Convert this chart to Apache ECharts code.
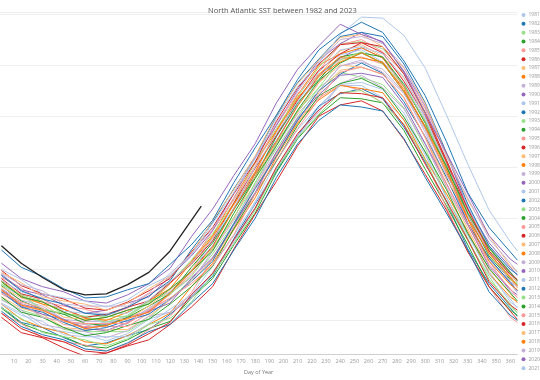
<!DOCTYPE html>
<html><head><meta charset="utf-8">
<script src="https://cdn.jsdelivr.net/npm/echarts/dist/echarts.min.js"></script>
<style>html,body{margin:0;padding:0;background:#fff}#c{width:540px;height:380px}</style>
</head><body><div id="c"></div>
<script>
const days = [1,15,30,45,60,75,90,105,120,135,150,165,180,195,210,225,240,255,270,285,300,315,330,345,360,365];
const days2023 = [1,15,30,45,60,75,90,105,120,135,142];
const xTicks = [10,20,30,40,50,60,70,80,90,100,110,120,130,140,150,160,170,180,190,200,210,220,230,240,250,260,270,280,290,300,310,320,330,340,350,360];

const y1981 = [20.17,20.07,19.93,19.89,19.86,19.80,19.87,20.01,20.08,20.25,20.53,20.83,21.16,21.56,21.87,22.10,22.30,22.30,22.18,21.97,21.62,21.20,20.83,20.48,20.18,20.13];
const y1982 = [20.13,19.98,19.93,19.83,19.75,19.78,19.85,19.91,20.06,20.23,20.43,20.80,21.14,21.46,21.81,22.10,22.22,22.27,22.17,21.89,21.55,21.16,20.70,20.36,20.12,20.04];
const y1983 = [20.21,20.10,20.04,19.91,19.89,19.89,19.89,20.02,20.21,20.40,20.65,20.95,21.35,21.68,21.99,22.28,22.43,22.38,22.31,22.08,21.69,21.21,20.80,20.40,20.16,20.07];
const y1984 = [20.12,19.97,19.89,19.84,19.75,19.73,19.81,19.92,19.99,20.22,20.41,20.74,21.05,21.45,21.78,22.01,22.18,22.17,22.13,21.86,21.48,21.12,20.74,20.33,20.10,20.05];
const y1985 = [20.07,19.97,19.83,19.79,19.76,19.70,19.77,19.91,20.04,20.27,20.61,20.91,21.24,21.64,21.95,22.18,22.31,22.25,22.13,21.92,21.57,21.10,20.68,20.33,20.03,19.98];
const y1986 = [20.03,19.88,19.83,19.73,19.65,19.68,19.75,19.81,19.96,20.13,20.33,20.70,21.04,21.36,21.71,22.00,22.11,22.15,22.05,21.77,21.43,21.08,20.67,20.33,20.09,20.01];
const y1987 = [20.23,20.12,20.06,19.93,19.91,19.91,19.91,20.04,20.20,20.38,20.60,20.90,21.30,21.63,21.94,22.23,22.45,22.48,22.41,22.18,21.79,21.30,20.90,20.50,20.26,20.17];
const y1988 = [20.16,20.01,19.93,19.88,19.79,19.77,19.85,19.96,20.07,20.33,20.56,20.89,21.20,21.60,21.93,22.16,22.30,22.27,22.23,21.96,21.58,21.24,20.87,20.46,20.23,20.18];
const y1989 = [20.20,20.10,19.96,19.92,19.89,19.83,19.90,20.04,20.08,20.22,20.47,20.77,21.10,21.50,21.81,22.04,22.32,22.40,22.28,22.07,21.72,21.30,20.93,20.58,20.28,20.23];
const y1990 = [20.31,20.16,20.11,20.01,19.93,19.96,20.03,20.09,20.28,20.49,20.73,21.10,21.44,21.76,22.11,22.40,22.57,22.67,22.57,22.29,21.95,21.48,20.95,20.61,20.37,20.29];
const y1991 = [20.16,20.05,19.99,19.86,19.84,19.84,19.84,19.97,20.11,20.25,20.45,20.75,21.15,21.48,21.79,22.08,22.31,22.33,22.26,22.03,21.64,21.20,20.85,20.45,20.21,20.12];
const y1992 = [20.09,19.94,19.86,19.81,19.72,19.70,19.78,19.89,19.96,20.17,20.36,20.69,21.00,21.40,21.73,21.96,22.11,22.09,22.05,21.78,21.40,21.05,20.69,20.28,20.05,20.00];
const y1993 = [20.12,20.02,19.88,19.84,19.81,19.75,19.82,19.96,20.02,20.18,20.45,20.75,21.08,21.48,21.79,22.02,22.23,22.25,22.13,21.92,21.57,21.15,20.78,20.43,20.13,20.08];
const y1994 = [20.23,20.08,20.03,19.93,19.85,19.88,19.95,20.01,20.16,20.33,20.53,20.90,21.24,21.56,21.91,22.20,22.32,22.37,22.27,21.99,21.65,21.28,20.85,20.51,20.27,20.19];
const y1995 = [20.26,20.15,20.09,19.96,19.94,19.94,19.94,20.07,20.26,20.45,20.70,21.00,21.40,21.73,22.04,22.33,22.56,22.58,22.51,22.28,21.89,21.43,21.05,20.65,20.41,20.32];
const y1996 = [20.07,19.92,19.84,19.79,19.70,19.68,19.76,19.87,19.98,20.25,20.46,20.79,21.10,21.50,21.83,22.06,22.23,22.22,22.18,21.91,21.53,21.17,20.79,20.38,20.15,20.10];
const y1997 = [20.27,20.17,20.03,19.99,19.96,19.90,19.97,20.11,20.25,20.48,20.83,21.13,21.46,21.86,22.17,22.40,22.64,22.70,22.58,22.37,22.02,21.50,21.03,20.68,20.38,20.33];
const y1998 = [20.38,20.23,20.18,20.08,20.00,20.03,20.10,20.16,20.36,20.58,20.83,21.20,21.54,21.86,22.21,22.50,22.61,22.67,22.57,22.29,21.95,21.51,21.00,20.66,20.42,20.34];
const y1999 = [20.31,20.20,20.14,20.01,19.99,19.99,19.99,20.12,20.26,20.42,20.62,20.92,21.32,21.65,21.96,22.25,22.49,22.53,22.46,22.23,21.84,21.38,21.00,20.60,20.36,20.27];
const y2000 = [20.29,20.14,20.06,20.01,19.92,19.90,19.98,20.09,20.17,20.41,20.61,20.94,21.25,21.65,21.98,22.21,22.40,22.42,22.38,22.11,21.73,21.34,20.94,20.53,20.30,20.25];
const y2001 = [20.34,20.24,20.10,20.06,20.03,19.97,20.04,20.18,20.28,20.47,20.78,21.08,21.41,21.81,22.12,22.35,22.60,22.65,22.53,22.32,21.97,21.48,21.03,20.68,20.38,20.33];
const y2002 = [20.28,20.13,20.08,19.98,19.90,19.93,20.00,20.06,20.21,20.38,20.58,20.95,21.29,21.61,21.96,22.25,22.41,22.52,22.42,22.14,21.80,21.40,20.95,20.61,20.37,20.29];
const y2003 = [20.36,20.25,20.19,20.06,20.04,20.04,20.04,20.17,20.37,20.59,20.85,21.15,21.55,21.88,22.19,22.48,22.71,22.73,22.66,22.43,22.04,21.53,21.10,20.70,20.46,20.37];
const y2004 = [20.34,20.19,20.11,20.06,19.97,19.95,20.03,20.14,20.26,20.52,20.76,21.09,21.40,21.80,22.13,22.36,22.58,22.62,22.58,22.31,21.93,21.50,21.04,20.63,20.40,20.35];
const y2005 = [20.42,20.32,20.18,20.14,20.11,20.05,20.12,20.26,20.37,20.56,20.88,21.18,21.51,21.91,22.22,22.45,22.70,22.75,22.63,22.42,22.07,21.55,21.08,20.73,20.43,20.38];
const y2006 = [20.41,20.26,20.21,20.11,20.03,20.06,20.13,20.19,20.37,20.55,20.78,21.15,21.49,21.81,22.16,22.45,22.61,22.72,22.62,22.34,22.00,21.55,21.05,20.71,20.47,20.39];
const y2007 = [20.33,20.22,20.16,20.03,20.01,20.01,20.01,20.14,20.30,20.48,20.70,21.00,21.40,21.73,22.04,22.33,22.50,22.48,22.41,22.18,21.79,21.38,21.05,20.65,20.41,20.32];
const y2008 = [20.39,20.24,20.16,20.11,20.02,20.00,20.08,20.19,20.31,20.57,20.81,21.14,21.45,21.85,22.18,22.41,22.58,22.57,22.53,22.26,21.88,21.45,20.99,20.58,20.35,20.30];
const y2009 = [20.27,20.17,20.03,19.99,19.96,19.90,19.97,20.11,20.20,20.38,20.68,20.98,21.31,21.71,22.02,22.25,22.49,22.55,22.43,22.22,21.87,21.43,21.03,20.68,20.38,20.33];
const y2010 = [20.45,20.30,20.25,20.15,20.07,20.10,20.17,20.23,20.43,20.63,20.88,21.25,21.59,21.91,22.26,22.55,22.71,22.82,22.72,22.44,22.10,21.63,21.10,20.76,20.52,20.44];
const y2011 = [20.39,20.28,20.22,20.09,20.07,20.07,20.07,20.20,20.38,20.56,20.80,21.10,21.50,21.83,22.14,22.43,22.65,22.68,22.61,22.38,21.99,21.51,21.12,20.72,20.48,20.39];
const y2012 = [20.44,20.29,20.21,20.16,20.07,20.05,20.13,20.24,20.39,20.69,20.96,21.29,21.60,22.00,22.33,22.56,22.78,22.82,22.78,22.51,22.13,21.64,21.14,20.73,20.50,20.45];
const y2013 = [20.35,20.25,20.11,20.07,20.04,19.98,20.05,20.19,20.26,20.43,20.71,21.01,21.34,21.74,22.05,22.28,22.55,22.63,22.51,22.30,21.95,21.48,21.06,20.71,20.41,20.36];
const y2014 = [20.38,20.23,20.18,20.08,20.00,20.03,20.10,20.16,20.31,20.48,20.68,21.05,21.39,21.71,22.06,22.35,22.52,22.62,22.52,22.24,21.90,21.51,21.05,20.71,20.47,20.39];
const y2015 = [20.29,20.18,20.12,19.99,19.97,19.97,19.97,20.10,20.22,20.36,20.54,20.84,21.24,21.57,21.88,22.17,22.43,22.48,22.41,22.18,21.79,21.33,20.95,20.55,20.31,20.22];
const y2016 = [20.49,20.34,20.26,20.21,20.12,20.10,20.18,20.29,20.41,20.67,20.91,21.24,21.55,21.95,22.28,22.51,22.70,22.72,22.68,22.41,22.03,21.57,21.09,20.68,20.45,20.40];
const y2017 = [20.47,20.37,20.23,20.19,20.16,20.10,20.17,20.31,20.43,20.65,20.98,21.28,21.61,22.01,22.32,22.55,22.77,22.80,22.68,22.47,22.12,21.62,21.18,20.83,20.53,20.48];
const y2018 = [20.30,20.15,20.10,20.00,19.92,19.95,20.02,20.08,20.27,20.48,20.72,21.09,21.43,21.75,22.10,22.39,22.53,22.62,22.52,22.24,21.90,21.48,21.00,20.66,20.42,20.34];
const y2019 = [20.46,20.35,20.29,20.16,20.14,20.14,20.14,20.27,20.46,20.65,20.90,21.20,21.60,21.93,22.24,22.53,22.75,22.78,22.71,22.48,22.09,21.60,21.20,20.80,20.56,20.47];
const y2020 = [20.56,20.41,20.33,20.28,20.19,20.17,20.25,20.36,20.51,20.82,21.09,21.42,21.73,22.13,22.46,22.69,22.90,22.80,22.73,22.43,22.03,21.64,21.24,20.83,20.60,20.55];
const y2021 = [20.50,20.40,20.26,20.22,20.19,20.13,20.20,20.34,20.44,20.64,20.95,21.25,21.58,21.98,22.29,22.52,22.80,22.97,22.96,22.79,22.47,22.01,21.53,21.08,20.77,20.68];
const y2022 = [20.69,20.52,20.43,20.31,20.22,20.23,20.30,20.36,20.55,20.74,20.98,21.35,21.69,22.01,22.36,22.65,22.81,22.92,22.82,22.54,22.20,21.75,21.25,20.91,20.67,20.59];
const y2023 = [20.73,20.56,20.42,20.30,20.25,20.26,20.35,20.47,20.68,20.98,21.12];

const years = [1981,1982,1983,1984,1985,1986,1987,1988,1989,1990,1991,1992,1993,1994,1995,1996,1997,1998,1999,2000,2001,2002,2003,2004,2005,2006,2007,2008,2009,2010,2011,2012,2013,2014,2015,2016,2017,2018,2019,2020,2021,2022];
const values = [y1981,y1982,y1983,y1984,y1985,y1986,y1987,y1988,y1989,y1990,y1991,y1992,y1993,y1994,y1995,y1996,y1997,y1998,y1999,y2000,y2001,y2002,y2003,y2004,y2005,y2006,y2007,y2008,y2009,y2010,y2011,y2012,y2013,y2014,y2015,y2016,y2017,y2018,y2019,y2020,y2021,y2022];
const legendYears = years.slice(0, 41).map(String);

const palette = ['#aec7e8','#1f77b4','#98df8a','#2ca02c','#ff9896','#d62728','#ffbb78','#ff7f0e','#c5b0d5','#9467bd'];

const series = years.map((yr, i) => ({
  name: String(yr), type: 'line', showSymbol: false, symbol: 'circle', symbolSize: 4,
  color: palette[i % 10],
  lineStyle: { width: 1 },
  data: days.map((d, j) => [d, values[i][j]])
}));
series.push({
  name: '2023', type: 'line', showSymbol: false, symbol: 'circle', color: '#222222',
  lineStyle: { width: 1.3 },
  data: days2023.map((d, j) => [d, y2023[j]])
});

const chart = echarts.init(document.getElementById('c'), null, { renderer: 'canvas' });
chart.setOption({
  animation: false,
  textStyle: { fontFamily: 'Open Sans' },
  title: { text: 'North Atlantic SST between 1982 and 2023', left: 203, top: 2,
    textStyle: { fontSize: 7.5, fontWeight: 'normal', color: '#555', fontFamily: 'Open Sans' } },
  legend: { data: legendYears, orient: 'vertical', left: 521.5, top: 12, icon: 'circle',
    itemWidth: 4, itemHeight: 4, itemGap: 2.83, padding: 0,
    textStyle: { fontSize: 5, lineHeight: 6, color: '#999', padding: [0,0,0,-2] } },
  grid: { left: -2, right: 22.6, top: 12, bottom: 23, containLabel: false },
  xAxis: { type: 'value', min: 0, max: 365, interval: 10,
    name: 'Day of Year', nameLocation: 'middle', nameGap: 13,
    nameTextStyle: { fontSize: 5.5, color: '#777' },
    axisLine: { lineStyle: { color: '#d0d0d0' } }, axisTick: { show: false },
    axisLabel: { fontSize: 5.5, color: '#999', margin: 4, showMinLabel: false, showMaxLabel: false,
      formatter: v => xTicks.includes(v) ? String(v) : '' },
    splitLine: { show: false } },
  yAxis: { type: 'value', min: 19.67, max: 23.02, splitNumber: 7,
    axisLabel: { show: false }, axisLine: { show: false }, axisTick: { show: false },
    splitLine: { lineStyle: { color: '#efefef', width: 1 } } },
  series: series
});
</script></body></html>
